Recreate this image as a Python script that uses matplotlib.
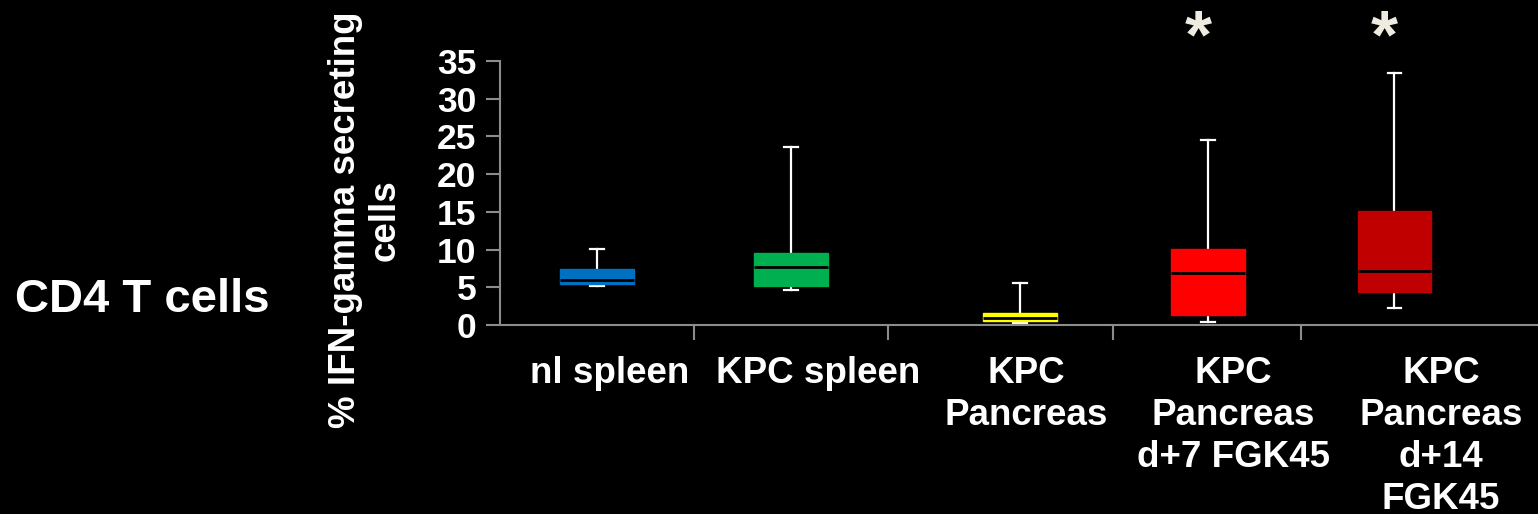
import matplotlib
matplotlib.use("Agg")
import matplotlib.pyplot as plt

# ---- data ----
groups = ["nl spleen", "KPC spleen", "KPC\nPancreas", "KPC\nPancreas\nd+7 FGK45",
          "KPC\nPancreas\nd+14\nFGK45"]
whisker_low = [5.2, 4.6, 0.2, 0.4, 2.3]
q1 = [5.5, 5.2, 0.5, 1.3, 4.4]
median = [6.0, 7.65, 0.95, 6.9, 7.1]
q3 = [7.4, 9.5, 1.6, 10.1, 15.1]
whisker_high = [10.1, 23.6, 5.6, 24.5, 33.4]
significant = [False, False, False, True, True]
box_colors = ["#0070C0", "#00B050", "#FFFF00", "#FF0000", "#C00000"]

# category placement (the source layout is not evenly spaced)
positions = [0.5, 1.5, 2.68, 3.65, 4.61]
label_positions = [0.567, 1.639, 2.711, 3.778, 4.851]
boundaries = [1.0, 2.0, 3.16, 4.13]
yticks = [0, 5, 10, 15, 20, 25, 30, 35]

plt.rcParams['font.family'] = ['Liberation Sans', 'DejaVu Sans']
plt.rcParams['font.weight'] = 'bold'

fig = plt.figure(figsize=(15.38, 5.14), dpi=100, facecolor='black')
ax = fig.add_axes([0.3251, 0.3677, 0.6749, 0.5136], facecolor='black')

stats = []
for i in range(len(groups)):
    stats.append(dict(whislo=whisker_low[i], q1=q1[i], med=median[i], q3=q3[i],
                      whishi=whisker_high[i], fliers=[]))

bp = ax.bxp(stats, positions=positions, widths=0.38, patch_artist=True,
            showfliers=False,
            whiskerprops=dict(color='white', linewidth=1.6),
            capprops=dict(color='white', linewidth=1.6),
            medianprops=dict(color='black', linewidth=2.0),
            capwidths=0.07)
for patch, c in zip(bp['boxes'], box_colors):
    patch.set_facecolor(c)
    patch.set_edgecolor(c)
    patch.set_linewidth(1)
    patch.set_zorder(3)
for m in bp['medians']:
    m.set_zorder(4)

# significance stars above the two treated groups
for x, sig in zip(positions, significant):
    if sig:
        ax.text(x - 0.05, 35.5, "*", ha='center', va='baseline', fontsize=50,
                fontweight='bold', color='#EEECE1', clip_on=False)

ax.set_xlim(0, 5.35)
ax.set_ylim(0, 35)

for side in ['top', 'right']:
    ax.spines[side].set_visible(False)
for side in ['left', 'bottom']:
    ax.spines[side].set_color('#8C8C8C')
    ax.spines[side].set_linewidth(1.5)

ax.set_yticks(yticks)
ax.set_yticklabels([str(v) for v in yticks], fontsize=25.5, fontweight='bold', color='white')
ax.tick_params(axis='y', direction='out', length=10, width=1.5, color='#8C8C8C', pad=7)

ax.set_xticks(boundaries)
ax.set_xticklabels([])
ax.tick_params(axis='x', which='major', direction='out', length=11, width=1.5, color='#8C8C8C')
ax.set_xticks(label_positions, minor=True)
ax.set_xticklabels(groups, minor=True, fontsize=26.5, fontweight='bold', color='white',
                   linespacing=1.26)
ax.tick_params(axis='x', which='minor', length=0, pad=22)

ax.set_ylabel("% IFN-gamma secreting\ncells", fontsize=26.5, fontweight='bold',
              color='white', linespacing=1.15)
ax.yaxis.set_label_coords(-0.094, 0.398)

fig.text(15 / 1538, 1 - 300 / 514, "CD4 T cells", ha='left', va='center',
         fontsize=34, fontweight='bold', color='white')

fig.savefig("out.png", dpi=100, facecolor='black')
